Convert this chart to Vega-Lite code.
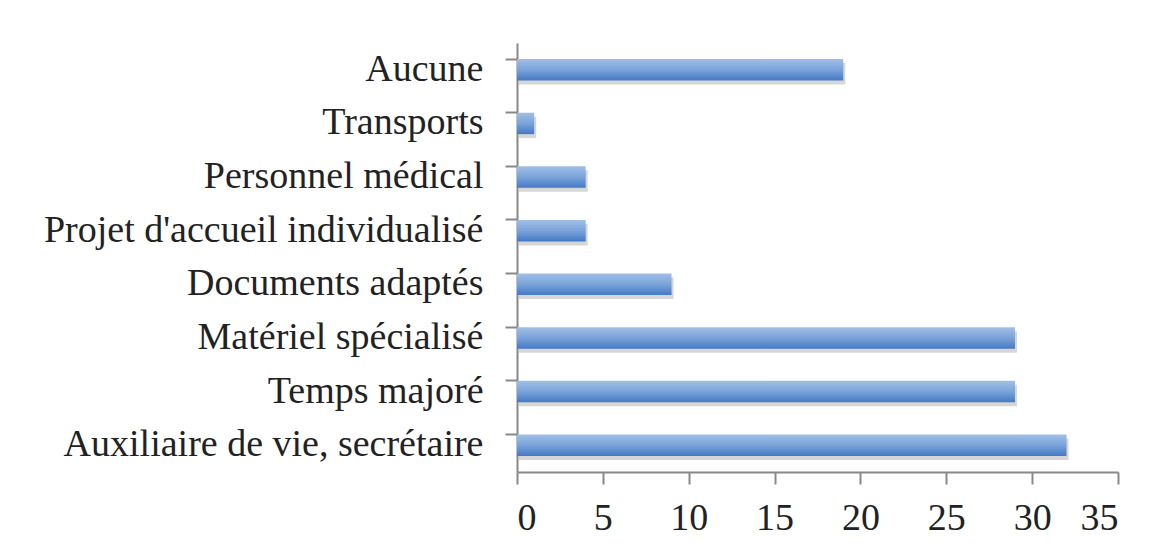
{
  "$schema": "https://vega.github.io/schema/vega-lite/v6.json",
  "autosize": {"type": "none"},
  "width": 601,
  "height": 429,
  "padding": {"left": 517, "top": 43, "right": 38, "bottom": 77},
  "background": "white",
  "config": {"view": {"stroke": null}, "font": "Liberation Serif"},
  "data": {"values": [
    {"cat": "Aucune", "v": 19},
    {"cat": "Transports", "v": 1},
    {"cat": "Personnel médical", "v": 4},
    {"cat": "Projet d'accueil individualisé", "v": 4},
    {"cat": "Documents adaptés", "v": 9},
    {"cat": "Matériel spécialisé", "v": 29},
    {"cat": "Temps majoré", "v": 29},
    {"cat": "Auxiliaire de vie, secrétaire", "v": 32}
  ]},
  "encoding": {
    "y": {"field": "cat", "type": "nominal", "sort": null, "title": null,
      "scale": {"paddingInner": 0.6, "paddingOuter": 0.3},
      "axis": {"domainColor": "#888888", "domainWidth": 2, "tickColor": "#888888", "tickWidth": 2, "tickSize": 12,
        "bandPosition": 0, "labelFontSize": 38, "labelColor": "#222222", "labelPadding": 22, "labelFont": "Liberation Serif", "labelLimit": 600}},
    "x": {"field": "v", "type": "quantitative", "title": null,
      "scale": {"domain": [0, 35], "nice": false},
      "axis": {"values": [0, 5, 10, 15, 20, 25, 30, 35], "grid": false, "domainColor": "#888888", "domainWidth": 2, "tickColor": "#888888", "tickWidth": 2, "tickSize": 12,
        "labelFontSize": 38, "labelColor": "#222222", "labelPadding": 15, "labelFont": "Liberation Serif"}}
  },
  "layer": [
    {"mark": {"type": "bar", "color": "#bbbbbb", "opacity": 0.6, "yOffset": 4, "xOffset": 2, "cornerRadius": 0}},
    {"mark": {"type": "bar", "color": {"gradient": "linear", "x1": 0, "y1": 0, "x2": 0, "y2": 1,
      "stops": [{"offset": 0, "color": "#a0bfe6"}, {"offset": 0.5, "color": "#7aa3d9"}, {"offset": 1, "color": "#4479c4"}]}}}
  ]
}
